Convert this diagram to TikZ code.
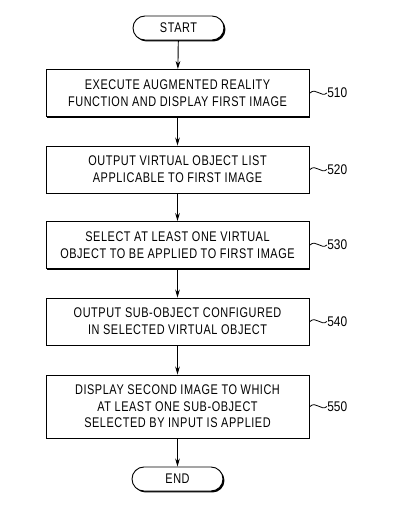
\documentclass[tikz,border=0pt]{standalone}
\usepackage{fontspec}
\setmainfont{Liberation Sans}[FakeStretch=0.78,LetterSpace=4]
\newfontfamily\labelfont{Liberation Sans}[FakeStretch=0.85]
\usetikzlibrary{arrows.meta,shadows,shapes.misc}
\tikzset{
  base/.style={draw, line width=0.7pt, fill=white, align=center,
    font=\fontsize{10.5pt}{12.5pt}\selectfont,
    drop shadow={shadow xshift=1.1pt, shadow yshift=-1.1pt, fill=black, opacity=1}},
  stepbox/.style={base, rectangle, minimum width=197.25pt, minimum height=35.25pt, inner sep=0pt},
  termbox/.style={base, rounded rectangle, minimum width=68.25pt, minimum height=18pt, inner sep=0pt},
  flow/.style={-{Stealth[length=6pt,width=3.5pt]}, line width=0.7pt},
  leader/.style={line width=0.6pt},
  reflabel/.style={anchor=west, inner sep=0pt, font=\labelfont\fontsize{10.5pt}{12pt}\selectfont}
}
\begin{document}
\begin{tikzpicture}[x=0.75pt,y=-0.75pt]
\useasboundingbox (0,0) rectangle (412,526);
\node[termbox] (start) at (178.5,28) {START};
\node[stepbox] (s510) at (177.5,93) {EXECUTE AUGMENTED REALITY\\FUNCTION AND DISPLAY FIRST IMAGE};
\node[stepbox] (s520) at (177.5,169.5) {OUTPUT VIRTUAL OBJECT LIST\\APPLICABLE TO FIRST IMAGE};
\node[stepbox] (s530) at (177.5,245) {SELECT AT LEAST ONE VIRTUAL\\OBJECT TO BE APPLIED TO FIRST IMAGE};
\node[stepbox] (s540) at (177.5,321.5) {OUTPUT SUB-OBJECT CONFIGURED\\IN SELECTED VIRTUAL OBJECT};
\node[stepbox, minimum height=47.25pt] (s550) at (177.5,406.5) {DISPLAY SECOND IMAGE TO WHICH\\AT LEAST ONE SUB-OBJECT\\SELECTED BY INPUT IS APPLIED};
\node[termbox] (end) at (177.5,479) {END};
\draw[flow] (start) -- (s510);
\draw[flow] (s510) -- (s520);
\draw[flow] (s520) -- (s530);
\draw[flow] (s530) -- (s540);
\draw[flow] (s540) -- (s550);
\draw[flow] (s550) -- (end);
\foreach \n/\y in {510/93,520/169.5,530/245,540/321.5,550/406.5}{
  \coordinate (t\n) at (327,\y);
  \node[reflabel] (l\n) at (t\n) {\n};
  \draw[leader] (s\n.east |- t\n) ++(0.5,0) .. controls +(6,-6) and +(-6,5) .. (l\n.west);
}
\end{tikzpicture}
\end{document}
